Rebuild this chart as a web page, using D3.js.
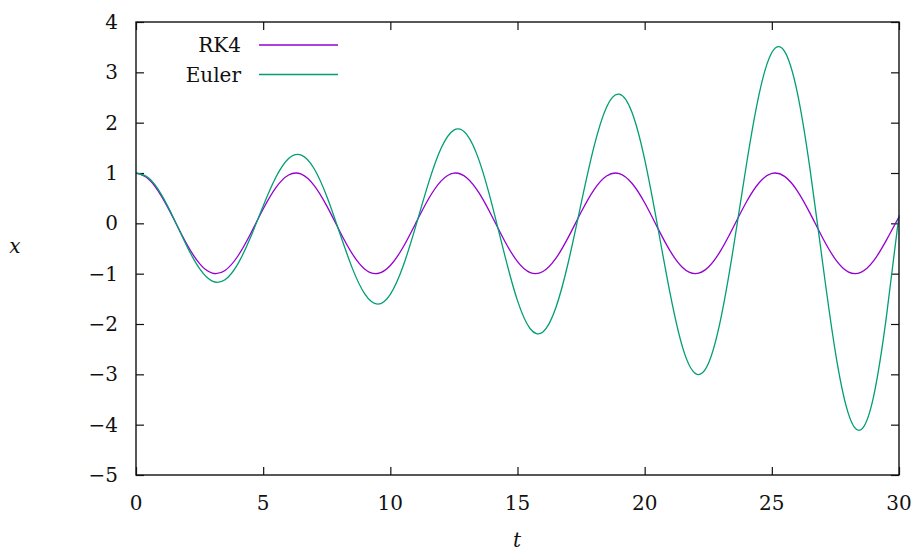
<!DOCTYPE html>
<html lang="en">
<head>
    <meta charset="UTF-8">
    <title>RK4 vs Euler</title>
    <style>
        body { margin: 0; background: #fff; }
        .marco { fill: none; stroke: #111; stroke-width: 1.4px; }
        .tick line { stroke: #111; stroke-width: 1.2px; }
        .curva { fill: none; stroke-width: 1.3px; }
        text.serif { font-family: "DejaVu Serif", "Liberation Serif", serif; }
    </style>
    <script src="https://cdn.jsdelivr.net/npm/d3@7"></script>
</head>
<body>
<script>
    // Sample times (t)
    var tiempos = [0, 0.5, 1, 1.5, 2, 2.5, 3, 3.5, 4, 4.5,
                   5, 5.5, 6, 6.5, 7, 7.5, 8, 8.5, 9, 9.5,
                   10, 10.5, 11, 11.5, 12, 12.5, 13, 13.5, 14, 14.5,
                   15, 15.5, 16, 16.5, 17, 17.5, 18, 18.5, 19, 19.5,
                   20, 20.5, 21, 21.5, 22, 22.5, 23, 23.5, 24, 24.5,
                   25, 25.5, 26, 26.5, 27, 27.5, 28, 28.5, 29, 29.5,
                   30];

    // x values of the RK4 curve
    var valoresRK4 = [1.000, 0.878, 0.540, 0.071, -0.416, -0.801, -0.990, -0.936, -0.654, -0.211,
                      0.284, 0.709, 0.960, 0.977, 0.754, 0.347, -0.146, -0.602, -0.911, -0.997,
                      -0.839, -0.476, 0.004, 0.483, 0.844, 0.998, 0.907, 0.595, 0.137, -0.355,
                      -0.760, -0.978, -0.958, -0.703, -0.275, 0.220, 0.660, 0.939, 0.989, 0.796,
                      0.408, -0.080, -0.548, -0.883, -1.000, -0.873, -0.533, -0.063, 0.424, 0.806,
                      0.991, 0.933, 0.647, 0.203, -0.292, -0.715, -0.963, -0.975, -0.748, -0.339,
                      0.13];

    // x values of the Euler curve
    var valoresEuler = [1.000, 0.901, 0.571, 0.082, -0.453, -0.902, -1.148, -1.120, -0.810, -0.282,
                        0.344, 0.915, 1.287, 1.356, 1.090, 0.537, -0.178, -0.885, -1.407, -1.604,
                        -1.410, -0.854, -0.055, 0.798, 1.495, 1.853, 1.768, 1.236, 0.367, -0.638,
                        -1.536, -2.094, -2.159, -1.688, -0.768, 0.390, 1.509, 2.308, 2.566, 2.205,
                        1.269, -0.033, -1.393, -2.480, -2.986, -2.790, -1.878, -0.450, 1.164, 2.569,
                        3.394, 3.417, 2.602, 1.083, -0.793, -2.563, -3.765, -4.101, -3.442, -1.874,
                        0.16];

    var series = ["RK4", "Euler"];
    var ticksX = [0, 5, 10, 15, 20, 25, 30];
    var ticksY = [-5, -4, -3, -2, -1, 0, 1, 2, 3, 4];

    function grafico() {
        var ancho_svg = 913,
            alto_svg = 552,
            izq = 136, dch = 899, sup = 22, inf = 475;

        var escala_x = d3.scaleLinear().domain([0, 30]).range([izq, dch]);
        var escala_y = d3.scaleLinear().domain([-5, 4]).range([inf, sup]);

        var colores = {RK4: "#9400d3", Euler: "#009e73"};
        var datos = {
            RK4: tiempos.map(function(t, i) { return {t: t, x: valoresRK4[i]}; }),
            Euler: tiempos.map(function(t, i) { return {t: t, x: valoresEuler[i]}; })
        };

        var svg = d3.select("body").append("svg")
            .attr("width", ancho_svg)
            .attr("height", alto_svg);

        // every text gets the serif font and size
        var texto = function(sel) {
            return sel.attr("class", "serif")
                      .attr("font-size", 20)
                      .attr("fill", "#111");
        };

        var menos = function(v) { return v < 0 ? "\u2212" + Math.abs(v) : String(v); };

        // Ticks pointing inwards on all four sides (gnuplot mirror style)
        var tam = 8;
        svg.append("g").attr("transform", "translate(0," + inf + ")")
            .call(d3.axisBottom(escala_x).tickValues(ticksX).tickSize(-tam).tickFormat(""))
            .call(function(g) { g.select(".domain").remove(); });
        svg.append("g").attr("transform", "translate(0," + sup + ")")
            .call(d3.axisTop(escala_x).tickValues(ticksX).tickSize(-tam).tickFormat(""))
            .call(function(g) { g.select(".domain").remove(); });
        svg.append("g").attr("transform", "translate(" + izq + ",0)")
            .call(d3.axisLeft(escala_y).tickValues(ticksY).tickSize(-tam).tickFormat(""))
            .call(function(g) { g.select(".domain").remove(); });
        svg.append("g").attr("transform", "translate(" + dch + ",0)")
            .call(d3.axisRight(escala_y).tickValues(ticksY).tickSize(-tam).tickFormat(""))
            .call(function(g) { g.select(".domain").remove(); });

        // Tick labels
        svg.selectAll(".lx").data(ticksX).enter().append("text")
            .call(texto)
            .attr("x", function(d) { return escala_x(d); })
            .attr("y", 510)
            .attr("text-anchor", "middle")
            .text(menos);
        svg.selectAll(".ly").data(ticksY).enter().append("text")
            .call(texto)
            .attr("x", 118)
            .attr("y", function(d) { return escala_y(d) + 7; })
            .attr("text-anchor", "end")
            .text(menos);

        // Axis titles
        svg.append("text").call(texto)
            .attr("x", 15).attr("y", 253)
            .attr("text-anchor", "middle").attr("font-style", "italic")
            .text("x");
        svg.append("text").call(texto)
            .attr("x", 517).attr("y", 547)
            .attr("text-anchor", "middle").attr("font-style", "italic")
            .text("t");

        // Curves
        var linea = d3.line()
            .x(function(d) { return escala_x(d.t); })
            .y(function(d) { return escala_y(d.x); })
            .curve(d3.curveNatural);

        series.forEach(function(s) {
            svg.append("path")
                .datum(datos[s])
                .attr("class", "curva")
                .attr("stroke", colores[s])
                .attr("d", linea);
        });

        // Legend
        var leyenda = svg.append("g");
        series.forEach(function(s, i) {
            var y = 45 + i * 29.5;
            leyenda.append("text").call(texto)
                .attr("x", 241).attr("y", y + 7)
                .attr("text-anchor", "end")
                .text(s);
            leyenda.append("line")
                .attr("x1", 259).attr("x2", 338)
                .attr("y1", y).attr("y2", y)
                .attr("stroke", colores[s]).attr("stroke-width", 1.3);
        });

        // Frame
        svg.append("rect").attr("class", "marco")
            .attr("x", izq).attr("y", sup)
            .attr("width", dch - izq).attr("height", inf - sup);
    }

    grafico();
</script>
</body>
</html>
